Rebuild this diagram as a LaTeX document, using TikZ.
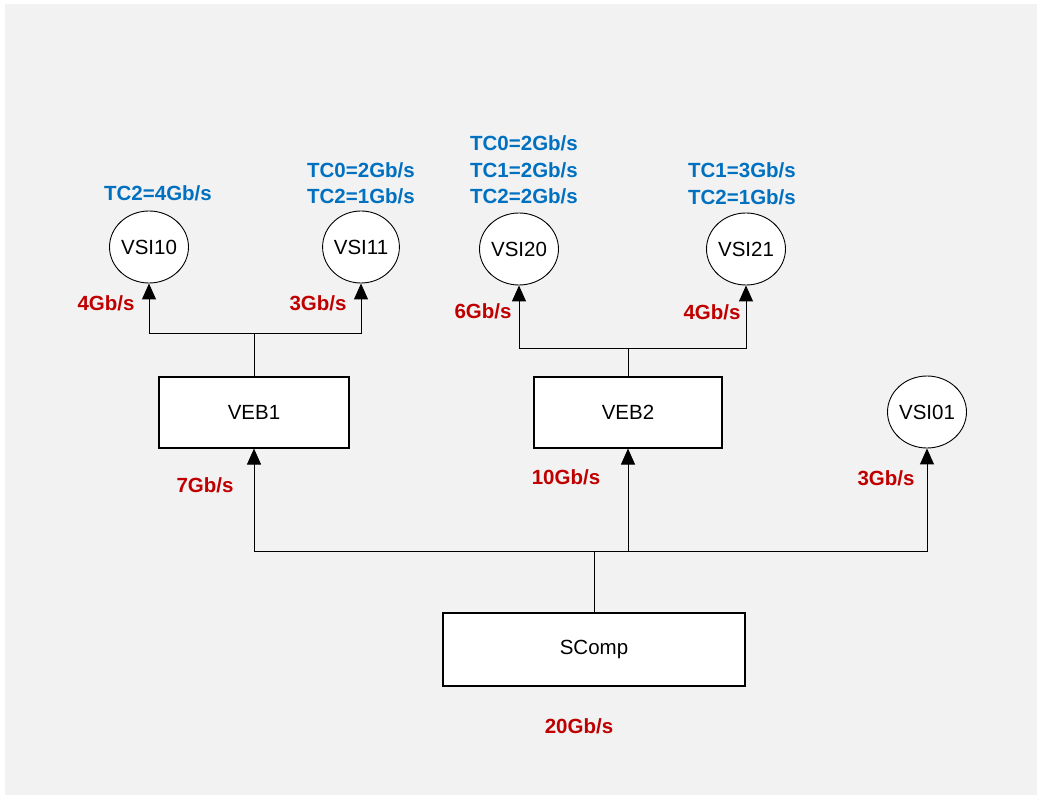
\documentclass[tikz,border=0pt]{standalone}
\usepackage{fontspec}
\setmainfont{Liberation Sans}
\usepackage{tikz}
\usetikzlibrary{shapes.geometric,arrows.meta,positioning}
\definecolor{bggray}{RGB}{242,242,242}
\definecolor{tcblue}{RGB}{0,112,192}
\definecolor{ratered}{RGB}{192,0,0}

\begin{document}
\begin{tikzpicture}[x=1pt,y=-1pt,
      box/.style={draw,line width=1.1pt,fill=white,minimum width=190pt,
                  minimum height=71pt,font=\fontsize{20.5}{26}\selectfont},
      vsi/.style={ellipse,draw,line width=0.9pt,fill=white,minimum width=76pt,
                  minimum height=72pt,inner sep=0pt,font=\fontsize{20.5}{26}\selectfont},
      tclabel/.style={font=\fontsize{20.5}{26.5}\selectfont\bfseries,text=tcblue,align=center},
      ratelabel/.style={font=\fontsize{20.5}{26}\selectfont\bfseries,text=ratered},
      link/.style={line width=1pt},
      arr/.style={link,-{Triangle[length=16pt,width=14pt]}}]
      % background
      \fill[bggray] (5,4) rectangle (1037,795);
      \useasboundingbox (0,0) rectangle (1037,795);

      % switch and bridges
      \node[box,minimum width=302pt,minimum height=73pt] (scomp) at (594,649.5) {SComp};
      \node[box] (veb1) at (254,412.5) {VEB1};
      \node[box,minimum width=188pt] (veb2) at (628,412.5) {VEB2};

      % station interfaces
      \node[vsi] (vsi10) at (149,247) {VSI10};
      \node[vsi] (vsi11) at (361,247) {VSI11};
      \node[vsi] (vsi20) at (519,249) {VSI20};
      \node[vsi] (vsi21) at (746,249) {VSI21};
      \node[vsi] (vsi01) at (927,412) {VSI01};

      % traffic classes
      \node[tclabel] (tc10) at (158,193) {TC2=4Gb/s};
      \node[tclabel] (tc11) at (361,183.5) {TC0=2Gb/s\\TC2=1Gb/s};
      \node[tclabel] (tc20) at (524,170) {TC0=2Gb/s\\TC1=2Gb/s\\TC2=2Gb/s};
      \node[tclabel] (tc21) at (742,184) {TC1=3Gb/s\\TC2=1Gb/s};

      % rates
      \node[ratelabel] (r10) at (106,303) {4Gb/s};
      \node[ratelabel] (r11) at (318,303) {3Gb/s};
      \node[ratelabel] (r20) at (483,311) {6Gb/s};
      \node[ratelabel] (r21) at (712,312) {4Gb/s};
      \node[ratelabel] (r1)  at (205,485) {7Gb/s};
      \node[ratelabel] (r2)  at (566,477) {10Gb/s};
      \node[ratelabel] (r01) at (886,478) {3Gb/s};
      \node[ratelabel] (r0)  at (579,726) {20Gb/s};

      % connections
      \coordinate (bus) at (594,551);
      \coordinate (j1) at (254,333);
      \coordinate (j2) at (628,348);
      \draw[link] (scomp.north) -- (bus);
      \draw[arr] (bus) -| (veb1.south);
      \draw[arr] (bus) -| (vsi01.south);
      \draw[arr] (bus -| veb2.south) -- (veb2.south);
      \draw[link] (veb1.north) -- (j1);
      \draw[arr] (j1) -| (vsi10.south);
      \draw[arr] (j1) -| (vsi11.south);
      \draw[link] (veb2.north) -- (j2);
      \draw[arr] (j2) -| (vsi20.south);
      \draw[arr] (j2) -| (vsi21.south);
    \end{tikzpicture}
\end{document}
